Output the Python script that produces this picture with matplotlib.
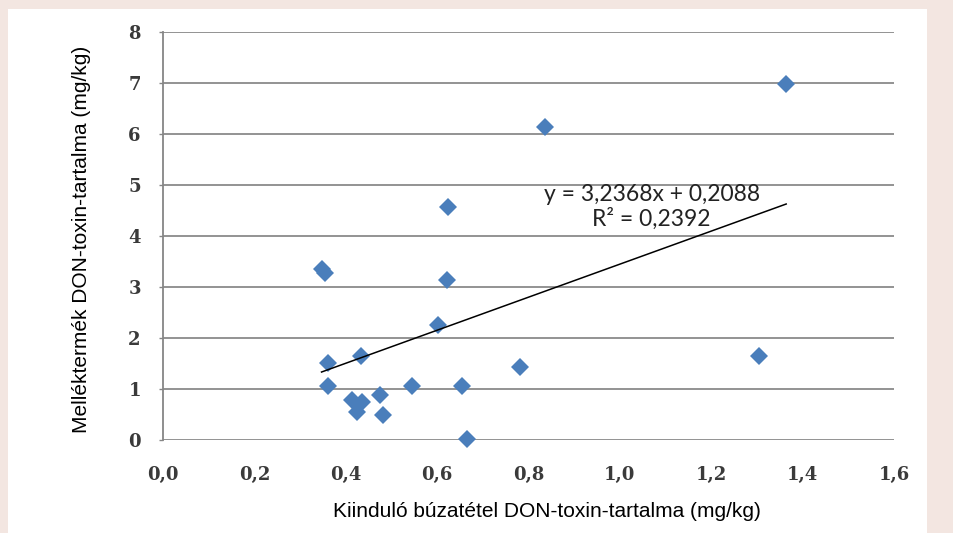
import matplotlib
matplotlib.use("Agg")
import matplotlib.pyplot as plt
from matplotlib.patches import Rectangle
import numpy as np

# Data
x_vals = [0.347, 0.355, 0.621, 0.603, 0.433, 0.362, 0.362, 0.544, 0.654, 0.413,
          0.435, 0.424, 0.475, 0.482, 0.665, 0.836, 0.624, 0.781, 1.364, 1.304]
y_vals = [3.36, 3.27, 3.13, 2.25, 1.65, 1.50, 1.06, 1.06, 1.06, 0.78,
          0.75, 0.55, 0.88, 0.49, 0.01, 6.13, 4.56, 1.44, 6.97, 1.65]
slope = 3.2368
intercept = 0.2088
r_squared = "0,2392"
x_ticks = [0.0, 0.2, 0.4, 0.6, 0.8, 1.0, 1.2, 1.4, 1.6]
x_tick_labels = ["0,0", "0,2", "0,4", "0,6", "0,8", "1,0", "1,2", "1,4", "1,6"]
y_ticks = [0, 1, 2, 3, 4, 5, 6, 7, 8]
x_label = "Kiinduló búzatétel DON-toxin-tartalma (mg/kg)"
y_label = "Melléktermék DON-toxin-tartalma (mg/kg)"

W, H = 954, 533
fig = plt.figure(figsize=(W / 100, H / 100), dpi=100)
fig.patch.set_facecolor("#f3e6e1")
fig.add_artist(Rectangle((8 / W, 0), (927 - 8) / W, 1 - 9 / H,
                         transform=fig.transFigure, facecolor="white",
                         edgecolor="none", zorder=0))

ax = fig.add_axes([163 / W, 1 - 440 / H, (894 - 163) / W, (440 - 31.7) / H])
ax.set_facecolor("none")
ax.set_xlim(0, 1.6)
ax.set_ylim(0, 8)

ax.set_yticks(y_ticks)
ax.set_yticklabels([str(v) for v in y_ticks])
ax.set_xticks(x_ticks)
ax.set_xticklabels(x_tick_labels)

for lab in ax.get_xticklabels() + ax.get_yticklabels():
    lab.set_fontfamily("DejaVu Serif")
    lab.set_fontweight("bold")
    lab.set_fontsize(13)
    lab.set_color("#3a3a3a")

ax.tick_params(axis="y", length=3, width=1, color="#868686", pad=13, direction="out")
ax.tick_params(axis="x", length=0, pad=19)

ax.grid(axis="y", color="#8a8a8a", linewidth=1.3)
ax.set_axisbelow(True)
for s in ["top", "right", "bottom"]:
    ax.spines[s].set_visible(False)
ax.spines["left"].set_color("#868686")
ax.spines["left"].set_linewidth(1.3)

ax.plot(x_vals, y_vals, linestyle="none", marker="D", markersize=9.3,
        color="#4a7ebb", markeredgewidth=0, zorder=3, clip_on=False)

xs = np.array([min(x_vals), max(x_vals)])
ax.plot(xs, slope * xs + intercept, color="black", linewidth=1.1, zorder=4)

eq_text = ("y = " + f"{slope:.4f}".replace(".", ",") + "x + "
           + f"{intercept:.4f}".replace(".", ",") + "\nR² = " + r_squared)
fig.text(651.7 / W, 1 - 207 / H, eq_text, ha="center", va="center",
         fontsize=16.5, family="Lato", color="#222222", linespacing=1.15)

fig.text(546.5 / W, 1 - 511.5 / H, x_label, ha="center", va="center",
         fontsize=15, family="Liberation Sans", color="black")
fig.text(82 / W, 1 - 239 / H, y_label, ha="center", va="center",
         rotation=90, fontsize=15, family="Liberation Sans", color="black")

fig.savefig("out.png", dpi=100, facecolor=fig.get_facecolor())
